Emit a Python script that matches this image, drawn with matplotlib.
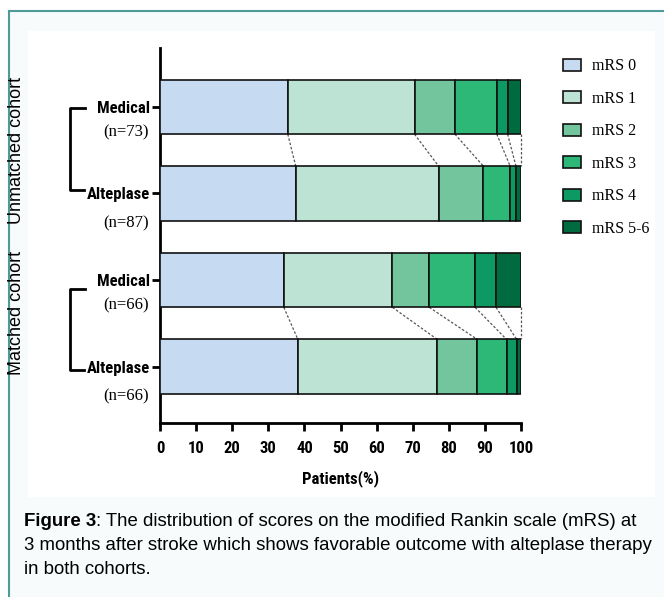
import numpy as np
import matplotlib
matplotlib.use('Agg')
import matplotlib.pyplot as plt
from matplotlib import font_manager
from matplotlib.patches import Rectangle
from matplotlib.lines import Line2D

# 数据 (从图上估读, %)
groups = ['Medical', 'Alteplase', 'Medical', 'Alteplase']
n_labels = ['(n=73)', '(n=87)', '(n=66)', '(n=66)']
mrs_names = ['mRS 0', 'mRS 1', 'mRS 2', 'mRS 3', 'mRS 4', 'mRS 5-6']
mrs0 = [35.4, 37.6, 34.3, 38.2]
mrs1 = [35.1, 39.6, 30.1, 38.6]
mrs2 = [11.2, 12.4, 10.2, 11.1]
mrs3 = [11.6, 7.4, 12.7, 8.1]
mrs4 = [3.0, 1.6, 5.8, 2.8]
mrs56 = [3.7, 1.4, 6.9, 1.2]
colors = ['#c6dbf1', '#bde3d5', '#73c59d', '#2db878', '#0c9a62', '#006b3f']

# 找一个窄体字体
names = {(f.name, f.stretch) for f in font_manager.fontManager.ttflist}
fam_names = {n for n, s in names}
narrow_kw = None
for cand in ['Liberation Sans Narrow', 'Arial Narrow', 'Roboto Condensed',
             'Open Sans Condensed']:
    if cand in fam_names:
        narrow_kw = dict(family=cand, fontsize=12)
        break
if narrow_kw is None:
    cond = [n for n, s in names if s in ('condensed', 'semi-condensed', 500, 600)
            and n in ('DejaVu Sans', 'Roboto', 'Open Sans', 'Noto Sans', 'Inter')]
    if cond:
        narrow_kw = dict(family=cond[0], fontstretch='condensed', fontsize=12)
    else:
        narrow_kw = dict(family='Liberation Sans', fontsize=10)

W, H = 664, 597
fig = plt.figure(figsize=(W / 100, H / 100), dpi=100)
fig.patch.set_facecolor('white')

def fx(px):
    return px / W

def fy(py):
    return 1 - py / H

# 背景框
fig.patches.append(Rectangle((fx(9), 0), 1 - fx(9), fy(11), transform=fig.transFigure,
                             facecolor='#f8fbfb', edgecolor='none', zorder=-2))
fig.patches.append(Rectangle((fx(28), fy(497)), fx(655 - 28), (497 - 31) / H,
                             transform=fig.transFigure, facecolor='white',
                             edgecolor='none', zorder=-1))
fig.lines.append(Line2D([fx(9), 1], [fy(11), fy(11)], transform=fig.transFigure,
                        color='#4d9b97', lw=1.5))
fig.lines.append(Line2D([fx(9), fx(9)], [fy(11), 0], transform=fig.transFigure,
                        color='#4d9b97', lw=1.5))

ax = fig.add_axes([fx(160), fy(423), fx(521 - 160), (423 - 48) / H])
ax.set_facecolor('none')
ax.set_zorder(3)

data = np.array([mrs0, mrs1, mrs2, mrs3, mrs4, mrs56])
ypos = np.arange(len(groups))
bar_h = 0.63
left = np.zeros(len(groups))
for vals, name, c in zip(data, mrs_names, colors):
    ax.barh(ypos, vals, left=left, height=bar_h, color=c, edgecolor='#111111',
            linewidth=1.2, label=name, zorder=3)
    left = left + vals

# 虚线连接
cum = np.cumsum(data, axis=0)
for a, b in [(0, 1), (2, 3)]:
    for k in range(cum.shape[0]):
        ax.plot([cum[k, a], cum[k, b]], [a + bar_h / 2, b - bar_h / 2],
                color='#555555', lw=0.9, ls=(0, (2, 1.5)), zorder=2, clip_on=False)

ax.set_xlim(0, 100)
ax.set_ylim(3.65, -0.68)
ax.spines['top'].set_visible(False)
ax.spines['right'].set_visible(False)
ax.spines['left'].set_linewidth(2)
ax.spines['bottom'].set_linewidth(2)

ax.set_xticks(range(0, 101, 10))
ax.set_xticklabels([str(v) for v in range(0, 101, 10)], fontweight='bold', **narrow_kw)
ax.tick_params(axis='x', length=6, width=2, pad=7)
ax.set_yticks(ypos)
ax.set_yticklabels(groups, fontweight='bold', **narrow_kw)
ax.tick_params(axis='y', length=6, width=2, pad=1)
ax.set_xlabel('Patients(%)', fontweight='bold', labelpad=10, **narrow_kw)

# n 标签
for i, lab in enumerate(n_labels):
    off = 0.29 if groups[i] == 'Medical' else 0.34
    ax.text((126 - 160) / 361, i + off, lab, transform=ax.get_yaxis_transform(),
            ha='center', va='center', family='Liberation Serif', fontsize=12)

# 队列括号
def bracket(y0, y1, x_top, x_bot):
    fig.lines.append(Line2D([fx(x_top), fx(70), fx(70), fx(x_bot)],
                            [fy(y0), fy(y0), fy(y1), fy(y1)],
                            transform=fig.transFigure, color='black', lw=2))

bracket(108, 190, 85, 84)
bracket(289, 370, 85, 84)
fig.text(fx(17), fy(150), 'Unmatched cohort', rotation=90, ha='center', va='center',
         family='Liberation Sans', fontsize=13)
fig.text(fx(17), fy(313), 'Matched cohort', rotation=90, ha='center', va='center',
         family='Liberation Sans', fontsize=13)

# 图例
fig.legend(loc='upper left', bbox_to_anchor=(fx(549), fy(44)), frameon=False,
           prop={'family': 'Liberation Serif', 'size': 11.5}, labelspacing=1.03,
           handlelength=1.1, handleheight=0.8, handletextpad=0.7)

# 图注
cap_font = 'Liberation Sans'
cap_size = 13.4
t = fig.text(fx(24), fy(522), 'Figure 3', ha='left', va='center', family=cap_font,
             fontsize=cap_size, fontweight='bold')
r = fig.canvas.get_renderer()
bb = t.get_window_extent(renderer=r)
fig.text(bb.x1 / W, fy(522), ': The distribution of scores on the modified Rankin scale (mRS) at',
         ha='left', va='center', family=cap_font, fontsize=cap_size)
fig.text(fx(24), fy(546), '3 months after stroke which shows favorable outcome with alteplase therapy',
         ha='left', va='center', family=cap_font, fontsize=cap_size)
fig.text(fx(24), fy(570), 'in both cohorts.', ha='left', va='center', family=cap_font,
         fontsize=cap_size)

fig.savefig('out.png', dpi=100)
